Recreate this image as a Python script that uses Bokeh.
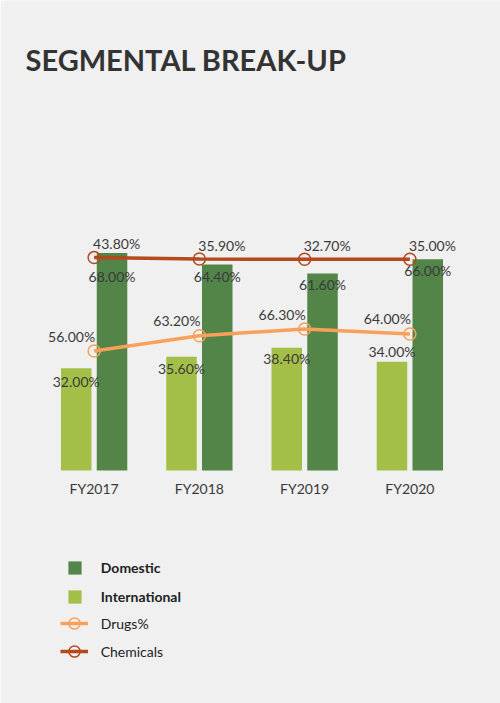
from bokeh.plotting import figure
from bokeh.models import ColumnDataSource, Range1d, FactorRange, Label, Legend, LegendItem
from bokeh.transform import dodge
from bokeh.core.properties import value
from bokeh.embed import file_html
from bokeh.resources import INLINE

# ---- data ----
years = ["FY2017", "FY2018", "FY2019", "FY2020"]
domestic = [68.0, 64.4, 61.6, 66.0]
international = [32.0, 35.6, 38.4, 34.0]
drugs = [56.0, 63.2, 66.3, 64.0]
chemicals = [43.8, 35.9, 32.7, 35.0]

# ---- styles ----
BG = "#f0f0f0"
DOM_C = "#538549"
INT_C = "#a4bf47"
DRUG_C = "#f9a15a"
CHEM_C = "#b3491c"
TXT_C = "#3a3a3a"
FONT = "Lato"
FS = "14px"

# label offsets in screen px (positive = downwards)
dom_dy = [24, 12, 11, 11]
int_dy = [13, 12, 11, -10]

chem_stacked = [d + c for d, c in zip(drugs, chemicals)]
fmt = lambda v: f"{v:.2f}%"

src = ColumnDataSource(dict(
    year=years,
    zero=[0] * len(years),
    domestic=domestic,
    international=international,
    drugs=drugs,
    chem_stack=chem_stacked,
    dom_lbl=[fmt(v) for v in domestic],
    int_lbl=[fmt(v) for v in international],
    drug_lbl=[fmt(v) for v in drugs],
    chem_lbl=[fmt(v) for v in chemicals],
    dom_dy=dom_dy,
    int_dy=int_dy,
))

# frame covers the whole canvas; ranges padded so the plot area sits where the chart is
W, H = 500, 703
p = figure(x_range=FactorRange(*years, range_padding=0.361, range_padding_units="absolute"),
           y_range=Range1d(-72.8, 146.9),
           width=W, height=H, output_backend="svg", toolbar_location=None,
           x_axis_location=None, y_axis_location=None,
           min_border=0, min_border_left=3)
p.extra_y_ranges = {"sec": Range1d(-109.2, 220.3)}

p.background_fill_color = BG
p.border_fill_color = BG
p.outline_line_color = None
p.xgrid.visible = False
p.ygrid.visible = False

BW = 0.29
OFF = 0.17
r_int = p.vbar(x=dodge("year", -OFF, range=p.x_range), top="international", width=BW,
               source=src, fill_color=INT_C, line_color=None)
r_dom = p.vbar(x=dodge("year", OFF, range=p.x_range), top="domestic", width=BW,
               source=src, fill_color=DOM_C, line_color=None)

r_drug_l = p.line(x="year", y="drugs", source=src, y_range_name="sec",
                  line_color=DRUG_C, line_width=3.5)
r_drug_p = p.scatter(x="year", y="drugs", source=src, y_range_name="sec", marker="circle",
                     size=12, fill_color=None, line_color=DRUG_C, line_width=1.5)
r_chem_l = p.line(x="year", y="chem_stack", source=src, y_range_name="sec",
                  line_color=CHEM_C, line_width=3.5)
r_chem_p = p.scatter(x="year", y="chem_stack", source=src, y_range_name="sec", marker="circle",
                     size=12, fill_color=None, line_color=CHEM_C, line_width=1.5)

tkw = dict(source=src, text_font=value(FONT), text_font_size=value(FS), text_color=TXT_C)
p.text(x=dodge("year", OFF, range=p.x_range), y="domestic", text="dom_lbl",
       text_align="center", text_baseline="middle", y_offset="dom_dy", **tkw)
p.text(x=dodge("year", -OFF, range=p.x_range), y="international", text="int_lbl",
       text_align="center", text_baseline="middle", y_offset="int_dy", **tkw)
p.text(x="year", y="drugs", text="drug_lbl", y_range_name="sec",
       text_align="right", text_baseline="middle", x_offset=1, y_offset=-15, **tkw)
p.text(x="year", y="chem_stack", text="chem_lbl", y_range_name="sec",
       text_align="left", text_baseline="middle", x_offset=-1, y_offset=-14, **tkw)
# category (axis) labels
p.text(x="year", y="zero", text="year", text_align="center", text_baseline="middle",
       y_offset=18, **tkw)

title = Label(x=22, y=644, x_units="screen", y_units="screen",
              text="SEGMENTAL BREAK-UP", text_font=FONT, text_font_style="bold",
              text_font_size="29px", text_color="#333333", text_baseline="alphabetic")
p.add_layout(title)

# legend swatches (hidden renderers, only shown in the legend)
sw = ColumnDataSource(dict(x=[years[0]], y=[0]))
lg_dom = p.scatter(x="x", y="y", source=sw, marker="square", size=13,
                   fill_color=DOM_C, line_color=None, visible=False)
lg_int = p.scatter(x="x", y="y", source=sw, marker="square", size=13,
                   fill_color=INT_C, line_color=None, visible=False)


def add_legend(label, renderers, loc, gw, gh, standoff, style, color):
    lg = Legend(items=[LegendItem(label=label, renderers=renderers)], location=loc,
                glyph_width=gw, glyph_height=gh, label_height=gh, spacing=0,
                padding=0, margin=0, label_standoff=standoff,
                border_line_color=None, background_fill_alpha=0, inactive_fill_alpha=0,
                label_text_font=FONT, label_text_font_size=FS,
                label_text_font_style=style, label_text_color=color)
    p.add_layout(lg)


add_legend("Domestic", [lg_dom], (54.8, 119.2), 33, 33, 10, "bold", "#222222")
add_legend("International", [lg_int], (54.8, 90.5), 33, 33, 10, "bold", "#222222")
add_legend("Drugs%", [r_drug_l, r_drug_p], (56.7, 64.7), 28, 30, 13, "normal", "#222222")
add_legend("Chemicals", [r_chem_l, r_chem_p], (56.7, 37.0), 28, 30, 13, "normal", "#222222")

open("out.html", "w").write(file_html(p, INLINE))
